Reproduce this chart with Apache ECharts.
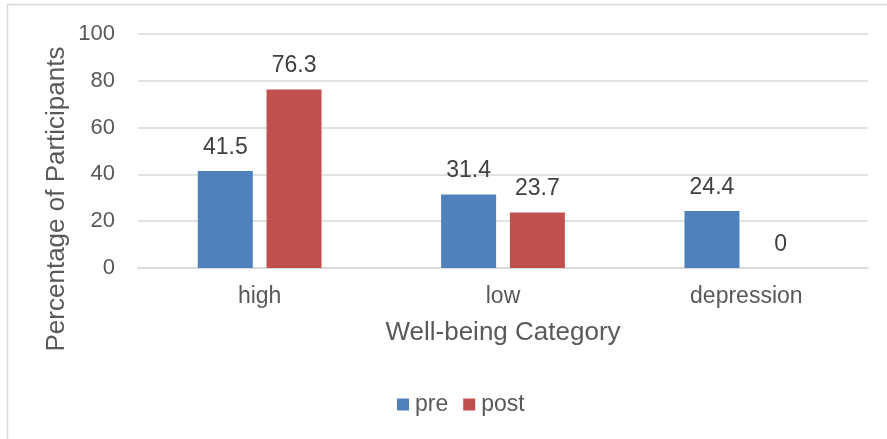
<!DOCTYPE html>
<html>
<head>
<meta charset="utf-8">
<script src="https://cdn.jsdelivr.net/npm/echarts@6/dist/echarts.min.js"></script>
<style>
  html, body { margin: 0; padding: 0; background: #fff; }
  #chart { width: 887px; height: 439px; }
</style>
</head>
<body>
<div id="chart"></div>
<script>
// data
var categories = ['high', 'low', 'depression'];
var preValues = [41.5, 31.4, 24.4];
var postValues = [76.3, 23.7, 0];
var yTicks = [0, 20, 40, 60, 80, 100];

var font = '"Liberation Sans", Arial, sans-serif';

var myChart = echarts.init(document.getElementById('chart'));

var labelStyle = {
    show: true,
    position: 'top',
    distance: 12,
    color: '#404040',
    fontSize: 23,
    fontFamily: font
};

var option = {
    animation: false,
    backgroundColor: '#fff',
    grid: {
        left: 138,
        right: 19,
        top: 34,
        bottom: 171
    },
    legend: {
        data: ['pre', 'post'],
        left: 392,
        top: 388,
        itemWidth: 12,
        itemHeight: 12,
        itemGap: 15,
        icon: 'rect',
        textStyle: {
            color: '#595959',
            fontSize: 23,
            fontFamily: font,
            padding: [0, 0, 0, 1]
        }
    },
    graphic: [
        {
            type: 'rect',
            shape: { x: 7.5, y: 4.5, width: 1000, height: 1000 },
            style: { fill: 'none', stroke: '#d9d9d9', lineWidth: 1.5 },
            silent: true
        },
        {
            type: 'text',
            x: 57,
            y: 199,
            rotation: Math.PI / 2,
            style: {
                text: 'Percentage of Participants',
                fill: '#595959',
                font: '26px ' + font,
                align: 'center',
                verticalAlign: 'middle'
            }
        },
        {
            type: 'text',
            x: 503,
            y: 333,
            style: {
                text: 'Well-being Category',
                fill: '#595959',
                font: '26px ' + font,
                align: 'center',
                verticalAlign: 'middle'
            }
        }
    ],
    xAxis: {
        type: 'category',
        data: categories,
        axisLine: { lineStyle: { color: '#d9d9d9', width: 1.5 } },
        axisTick: { show: false },
        axisLabel: {
            margin: 17,
            color: '#595959',
            fontSize: 23,
            fontFamily: font
        }
    },
    yAxis: {
        type: 'value',
        min: yTicks[0],
        max: yTicks[yTicks.length - 1],
        interval: yTicks[1] - yTicks[0],
        axisLine: { show: false },
        axisTick: { show: false },
        splitLine: { lineStyle: { color: '#d9d9d9', width: 1.5 } },
        axisLabel: {
            margin: 23,
            color: '#595959',
            fontSize: 22,
            fontFamily: font
        }
    },
    series: [
        {
            name: 'pre',
            type: 'bar',
            data: preValues,
            barWidth: 55,
            barGap: '25%',
            itemStyle: { color: '#4F81BD' },
            label: labelStyle
        },
        {
            name: 'post',
            type: 'bar',
            data: postValues,
            barWidth: 55,
            itemStyle: { color: '#C0504D' },
            label: labelStyle
        }
    ]
};

myChart.setOption(option);
</script>
</body>
</html>
